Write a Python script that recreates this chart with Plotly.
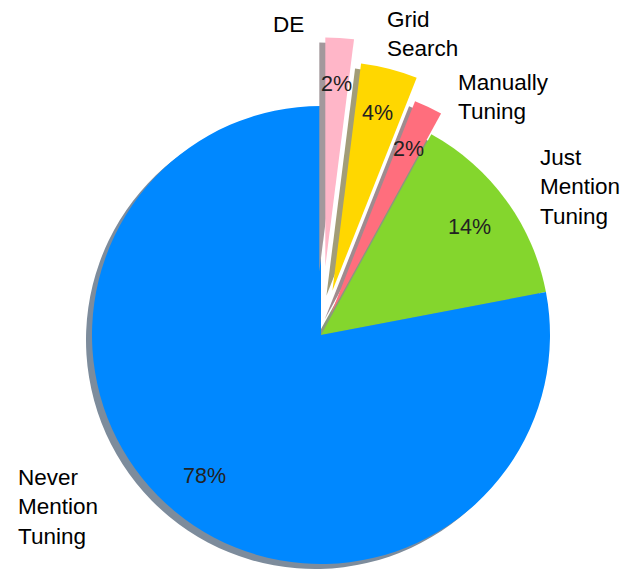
import math
import plotly.graph_objects as go

# ---- data ----
labels = ["DE", "Grid Search", "Manually Tuning", "Just Mention Tuning", "Never Mention Tuning"]
label_lines = ["DE", "Grid<br>Search", "Manually<br>Tuning", "Just<br>Mention<br>Tuning", "Never<br>Mention<br>Tuning"]
values = [2, 4, 2, 14, 78]

# ---- style ----
colors = ["#FFB6C8", "#FFD700", "#FF6E7D", "#84D62D", "#0088FF"]
shadow_colors = ["#a3989c", "#a29d78", "#a08a8e", "#8a9a7c", "#7d8c9c"]
pulls = [0.30, 0.20, 0.10, 0.0, 0.0]
W, H = 634, 570
CX, CY, R = 321, 335, 229
SDX, SDY = -6, 5
CLEAR = "rgba(0,0,0,0)"
label_pos = [(271, 24), (385, 34), (456, 97), (538, 187), (16, 507)]  # left x, centre y (px)
FONT = "Liberation Sans, Arial, sans-serif"

fig = go.Figure()


def dom(cx, cy):
    return dict(x=[max(0, (cx - R) / W), min(1, (cx + R) / W)],
                y=[max(0, 1 - (cy + R) / H), min(1, 1 - (cy - R) / H)])


def add_pie(cx, cy, cols, name):
    fig.add_trace(go.Pie(
        values=values, labels=labels, sort=False, direction="clockwise", rotation=0,
        marker=dict(colors=cols, line=dict(width=0)), textinfo="none",
        hoverinfo="label+percent", domain=dom(cx, cy), showlegend=False, name=name))


total = sum(values)
cum = 0
centers = []
for v, p in zip(values, pulls):
    a0 = cum / total * 360
    cum += v
    a1 = cum / total * 360
    am = math.radians((a0 + a1) / 2)
    d = p * R
    centers.append((CX + d * math.sin(am), CY - d * math.cos(am), am))

# main pie (non-pulled slices) + shadow
main_cols = [c if p == 0 else CLEAR for c, p in zip(colors, pulls)]
shadow_cols = [s if p == 0 else CLEAR for s, p in zip(shadow_colors, pulls)]
add_pie(CX + SDX, CY + SDY, shadow_cols, "shadow")
add_pie(CX, CY, main_cols, "main")

# pulled slices, each drawn from its shifted centre
for i, p in enumerate(pulls):
    if p == 0:
        continue
    cx, cy, _ = centers[i]
    sc = [shadow_colors[i] if j == i else CLEAR for j in range(len(values))]
    cc = [colors[i] if j == i else CLEAR for j in range(len(values))]
    add_pie(cx + SDX, cy + SDY, sc, "shadow " + labels[i])
    add_pie(cx, cy, cc, labels[i])

annotations = []
for i, v in enumerate(values):
    cx, cy, am = centers[i]
    px = cx + 0.8 * R * math.sin(am)
    py = cy - 0.8 * R * math.cos(am)
    annotations.append(dict(x=px / W, y=1 - py / H, xref="paper", yref="paper",
                            xanchor="center", yanchor="middle",
                            text=f"{v / total * 100:.0f}%", showarrow=False,
                            font=dict(size=21.5, color="#222222", family=FONT)))
for txt, (lx, ly) in zip(label_lines, label_pos):
    annotations.append(dict(x=lx / W, y=1 - ly / H, xref="paper", yref="paper",
                            text=txt, showarrow=False, xanchor="left", yanchor="middle",
                            align="left", font=dict(size=22.5, color="#000000", family=FONT)))

fig.update_layout(width=W, height=H, margin=dict(l=0, r=0, t=0, b=0),
                  paper_bgcolor="white", plot_bgcolor="white",
                  annotations=annotations, showlegend=False)

fig.write_html("out.html", config={"displayModeBar": False},
               post_script="document.body.style.margin='0';")
